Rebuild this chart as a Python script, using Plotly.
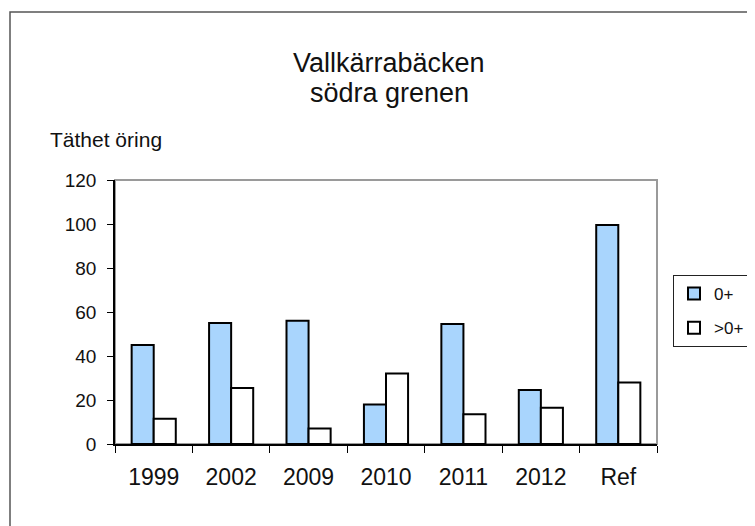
import plotly.graph_objects as go

categories = ["1999", "2002", "2009", "2010", "2011", "2012", "Ref"]
young = [45, 55, 56, 18, 54.5, 24.5, 99.5]      # 0+
older = [11.5, 25.5, 7, 32, 13.5, 16.5, 28]     # >0+
series_names = ["0+", ">0+"]
y_ticks = [0, 20, 40, 60, 80, 100, 120]

OFF = 8  # page body margin
W, H = 755 - OFF, 526 - OFF
L, T = 115 - OFF, 180 - OFF
R = W - (657 - OFF)
B = H - (444 - OFF)
pw, ph = W - L - R, H - T - B

def px_x(x):
    return (x - OFF - L) / pw

def px_y(y):
    return (H - B - (y - OFF)) / ph

FONT = "Liberation Sans, Arial, sans-serif"

fig = go.Figure()
fig.add_trace(go.Bar(x=categories, y=young, name=series_names[0], legendgroup="a",
                     marker=dict(color="#A9D5FD", line=dict(color="black", width=2))))
fig.add_trace(go.Bar(x=categories, y=older, name=series_names[1], legendgroup="b",
                     marker=dict(color="white", line=dict(color="black", width=2))))

fig.update_layout(
    width=W, height=H,
    margin=dict(l=L, r=R, t=T, b=B, autoexpand=False),
    paper_bgcolor="white", plot_bgcolor="white",
    barmode="group", bargap=0.43, bargroupgap=0,
    font=dict(family=FONT, color="#111"),
    showlegend=True,
    legend=dict(x=px_x(673), y=px_y(275), xanchor="left", yanchor="top",
                bordercolor="#222", borderwidth=1, bgcolor="white",
                font=dict(size=17, family=FONT), tracegroupgap=9,
                itemwidth=30, traceorder="grouped"),
    xaxis=dict(type="category", showgrid=False, showline=True, linecolor="black", linewidth=1.5,
               ticks="outside", tickson="boundaries", ticklen=7, tickcolor="black", tickwidth=1,
               ticklabelstandoff=12,
               tickfont=dict(size=23, family=FONT, color="#111"), fixedrange=True),
    yaxis=dict(range=[0, 120], tickvals=y_ticks, showgrid=False, zeroline=False,
               showline=True, linecolor="black", linewidth=1.5,
               ticks="outside", ticklen=6, tickcolor="black", tickwidth=1,
               ticklabelstandoff=7,
               tickfont=dict(size=19, family=FONT, color="#111"), fixedrange=True),
    shapes=[
        dict(type="rect", xref="paper", yref="paper", x0=0, x1=1, y0=0, y1=1,
             line=dict(color="#9a9a9a", width=2), layer="below"),
        dict(type="rect", xref="paper", yref="paper",
             x0=px_x(10), x1=px_x(770), y0=px_y(12), y1=px_y(540),
             line=dict(color="#555", width=1.5), fillcolor="rgba(0,0,0,0)", layer="below"),
    ],
    annotations=[
        dict(text="Vallkärrabäcken", xref="paper", yref="paper", x=px_x(389), y=px_y(63),
             xanchor="center", yanchor="middle", showarrow=False,
             font=dict(size=27, family=FONT, color="#111")),
        dict(text="södra grenen", xref="paper", yref="paper", x=px_x(389), y=px_y(93),
             xanchor="center", yanchor="middle", showarrow=False,
             font=dict(size=27, family=FONT, color="#111")),
        dict(text="Täthet öring", xref="paper", yref="paper", x=px_x(48), y=px_y(140),
             xanchor="left", yanchor="middle", showarrow=False,
             font=dict(size=21, family=FONT, color="#111")),
    ],
)

fig.write_html("out.html")
